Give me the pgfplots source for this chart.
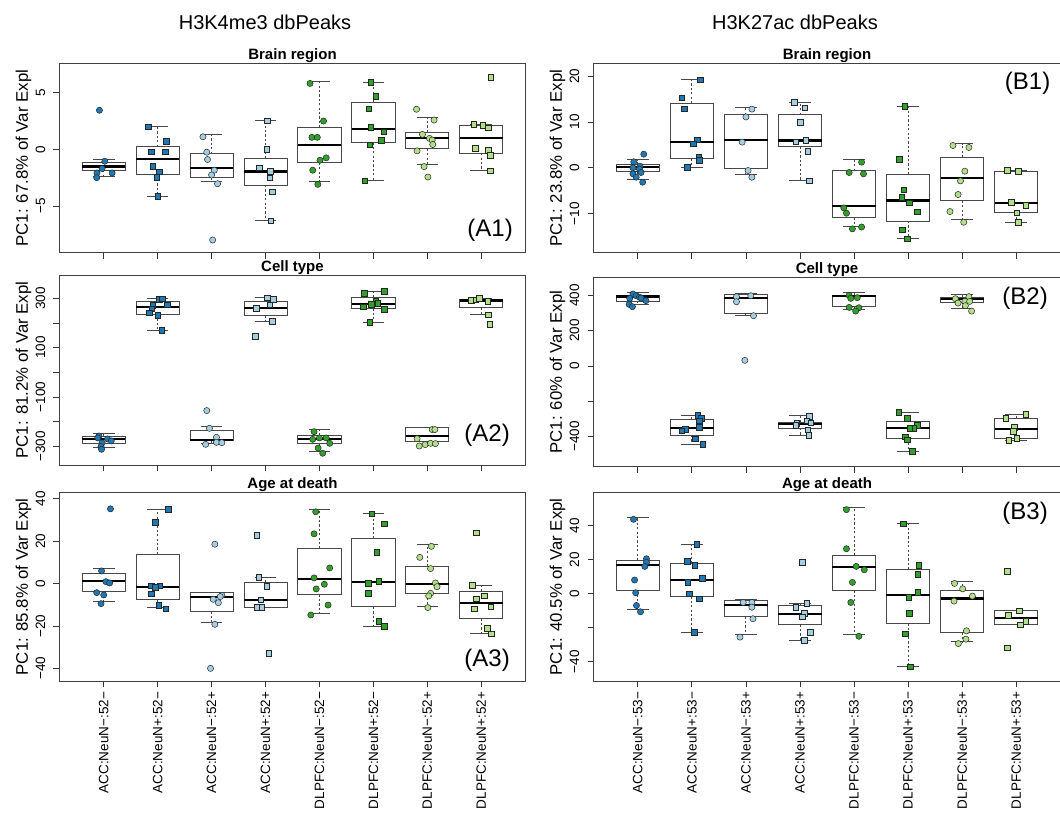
\documentclass[border=0pt]{standalone}
\usepackage{fontspec}
\setmainfont{Liberation Sans}
\usepackage{pgfplots}
\pgfplotsset{compat=1.18}
\usepgfplotslibrary{statistics}

\definecolor{dblue}{HTML}{1F78B4}
\definecolor{lblue}{HTML}{A6CEE3}
\definecolor{dgreen}{HTML}{33A02C}
\definecolor{lgreen}{HTML}{B2DF8A}

\newcommand{\fs}[1]{\fontsize{#1}{#1}\selectfont}

% one box: position, lower whisker, Q1, median, Q3, upper whisker
\newcommand{\bx}[6]{\addplot[boxplot prepared={draw position=#1,
  lower whisker=#2, lower quartile=#3, median=#4,
  upper quartile=#5, upper whisker=#6}] coordinates {};}
% jittered samples: circles (NeuN-) and squares (NeuN+)
\newcommand{\pc}[2]{\addplot[only marks, mark=*, mark size=3.1pt,
  mark options={fill=#1, draw=black!85, line width=0.5pt}] coordinates {#2};}
\newcommand{\ps}[2]{\addplot[only marks, mark=square*, mark size=2.8pt,
  mark options={fill=#1, draw=black!85, line width=0.5pt}] coordinates {#2};}

\tikzset{letter/.style={inner sep=0pt, font=\fs{24}}}

\pgfplotsset{
  panel/.style={
    scale only axis, width=466pt, height=189pt, anchor=south west,
    xmin=0.18, xmax=8.82, xtick={1,...,8}, xticklabels={},
    tick pos=left, tick align=outside, major tick length=6pt,
    axis line style={draw=black!75, line width=0.9pt},
    tick style={draw=black!80, line width=0.8pt},
    yticklabel style={rotate=90, anchor=south, font=\fs{13.5}, inner sep=8pt},
    xticklabel style={rotate=90, anchor=east, font=\fs{13.5}, inner sep=4.5pt},
    title style={font=\bfseries\fs{15}, at={(0.5,1)}, anchor=base, yshift=-2pt},
    ylabel style={font=\fs{16.8}, at={(axis description cs:-0.077,0.5)}, anchor=center},
    boxplot/draw direction=y,
    boxplot/box extend=0.8,
    boxplot/whisker extend=0.4,
    boxplot/every box/.style={draw=black!72, fill=white, line width=0.9pt},
    boxplot/every median/.style={draw=black, line width=2.2pt},
    boxplot/every whisker/.style={draw=black!72, line width=0.9pt},
    boxplot/draw/lower whisker/.code={%
      \draw[/pgfplots/boxplot/every whisker/.try, dash pattern=on 2.2pt off 2.2pt]
        (boxplot cs:\pgfplotsboxplotvalue{lower quartile}) --
        (boxplot cs:\pgfplotsboxplotvalue{lower whisker});
      \draw[/pgfplots/boxplot/every whisker/.try]
        (boxplot whisker cs:\pgfplotsboxplotvalue{lower whisker},0) --
        (boxplot whisker cs:\pgfplotsboxplotvalue{lower whisker},1);
    },
    boxplot/draw/upper whisker/.code={%
      \draw[/pgfplots/boxplot/every whisker/.try, dash pattern=on 2.2pt off 2.2pt]
        (boxplot cs:\pgfplotsboxplotvalue{upper quartile}) --
        (boxplot cs:\pgfplotsboxplotvalue{upper whisker});
      \draw[/pgfplots/boxplot/every whisker/.try]
        (boxplot whisker cs:\pgfplotsboxplotvalue{upper whisker},0) --
        (boxplot whisker cs:\pgfplotsboxplotvalue{upper whisker},1);
    },
  },
  % right-hand column: its right frame edge falls just past the page edge
  rightcol/.style={panel, width=467pt},
}

\begin{document}
\begin{tikzpicture}[x=1pt, y=1pt]
\useasboundingbox (0,0) rectangle (1060,-814);

\node[font=\fs{20}, anchor=base] at (265,-29) {H3K4me3 dbPeaks};
\node[font=\fs{20}, anchor=base] at (795,-29) {H3K27ac dbPeaks};

% ---------------- H3K4me3: brain region ----------------
\begin{axis}[panel, at={(59.5pt,-252.7pt)},
  ymin=-9.11, ymax=7.57, ytick={-5,0,5}, yticklabels={−5,0,5},
  title={Brain region}, ylabel={PC1: 67.8\% of Var Expl}]
\bx{1}{-2.34}{-1.83}{-1.51}{-1.18}{-0.86}
\bx{2}{-4.14}{-2.22}{-0.83}{0.24}{2.01}
\bx{3}{-2.81}{-2.46}{-1.66}{-0.38}{1.33}
\bx{4}{-6.30}{-3.14}{-1.95}{-0.80}{2.54}
\bx{5}{-2.81}{-1.18}{0.36}{1.95}{6.0}
\bx{6}{-2.75}{0.62}{1.78}{4.14}{5.95}
\bx{7}{-1.33}{0.06}{0.98}{1.54}{2.84}
\bx{8}{-1.86}{-0.33}{0.98}{2.10}{2.22}
\pc{dblue}{(0.92,3.46) (1.02,-1.04) (0.97,-1.69) (0.875,-2.07) (1.156,-2.07) (0.87,-2.49)}
\ps{dblue}{(1.82,2.01) (2.16,0.74) (1.88,-0.21) (2.14,-0.21) (1.91,-1.48) (2.03,-1.95) (1.98,-2.46) (2.0,-4.14)}
\pc{lblue}{(2.84,1.12) (2.91,-0.24) (2.925,-0.89) (3.05,-1.83) (3.0,-2.25) (3.11,-3.02) (3.02,-7.99)}
\ps{lblue}{(4.03,2.54) (4.02,0.0) (3.88,-1.60) (4.09,-1.92) (4.08,-2.51) (4.13,-3.73) (4.1,-6.30)}
\pc{dgreen}{(4.825,5.83) (5.075,2.51) (4.86,1.07) (4.96,1.07) (5.125,-0.74) (5.01,-0.95) (4.875,-1.83) (4.97,-3.08)}
\ps{dgreen}{(5.95,5.95) (6.04,4.70) (5.91,3.58) (5.95,1.95) (6.19,1.57) (6.14,0.83) (5.93,0.41) (5.84,-2.75)}
\pc{lgreen}{(6.8,3.55) (7.125,2.60) (6.91,1.33) (7.04,0.98) (7.09,0.83) (7.1,0.44) (6.81,-0.12) (6.94,-1.51) (7.01,-2.43)}
\ps{lgreen}{(8.175,6.36) (7.86,2.22) (8.025,2.13) (8.125,1.92) (7.89,0.09) (8.125,-0.09) (8.17,-0.53) (8.17,-1.86)}
\node[letter, anchor=south east, xshift=-12.5pt, yshift=11pt] at (rel axis cs:1,0) {(A1)};
\end{axis}

% ---------------- H3K4me3: cell type ----------------
\begin{axis}[panel, at={(59.5pt,-465pt)}, height=190pt,
  ymin=-375.7, ymax=394.6, ytick={-300,-200,-100,0,100,200,300},
  yticklabels={−300,,−100,,100,,300},
  title={Cell type}, ylabel={PC1: 81.2\% of Var Expl}]
\bx{1}{-305}{-286.5}{-270}{-259.5}{-247}
\bx{2}{170}{236.5}{265}{286.5}{300}
\bx{3}{-290}{-277}{-273}{-236.5}{-219}
\bx{4}{208}{231}{262}{286.5}{302.7}
\bx{5}{-319}{-287.8}{-270}{-256.8}{-232}
\bx{6}{202.7}{259.5}{275.7}{304}{328.4}
\bx{7}{-297}{-279.7}{-259.5}{-223}{-223}
\bx{8}{234}{262}{291}{296}{300}
\pc{dblue}{(0.91,-258) (0.89,-266) (1.07,-270) (1.14,-278) (0.97,-286) (0.95,-301) (0.96,-312)}
\ps{dblue}{(2.025,297) (2.08,299) (2.18,274) (1.91,272) (1.89,257) (1.84,242) (2.0,231) (2.075,170)}
\pc{lblue}{(2.91,-155) (2.96,-227) (3.09,-263.5) (2.89,-292) (3.09,-284) (3.19,-285)}
\ps{lblue}{(4.03,302.7) (4.14,296) (4.08,274) (3.83,261) (4.12,208) (3.81,146)}
\pc{dgreen}{(4.9,-240.5) (4.875,-271.6) (5.0,-266) (5.125,-266) (5.19,-287.8) (4.975,-306.8) (5.06,-328)}
\ps{dgreen}{(6.2,328.4) (5.83,320) (6.04,290.5) (5.96,275.7) (6.08,279.7) (5.81,266) (6.2,256.8) (5.93,202.7)}
\pc{lgreen}{(7.09,-232) (7.14,-232) (6.81,-269) (6.85,-298.6) (6.96,-293) (7.06,-287.8) (7.15,-289)}
\ps{lgreen}{(7.81,292) (7.9,294.6) (7.96,300) (8.12,289) (8.125,233.8) (8.16,196)}
\node[letter, anchor=south east, xshift=-15.5pt, yshift=18pt] at (rel axis cs:1,0) {(A2)};
\end{axis}

% ---------------- H3K4me3: age at death ----------------
\begin{axis}[panel, at={(59.5pt,-681.3pt)},
  ymin=-46.1, ymax=43.1, ytick={-40,-20,0,20,40},
  yticklabels={−40,−20,0,20,40},
  xticklabels={ACC:NeuN−:52−, ACC:NeuN+:52−, ACC:NeuN−:52+, ACC:NeuN+:52+,
    DLPFC:NeuN−:52−, DLPFC:NeuN+:52−, DLPFC:NeuN−:52+, DLPFC:NeuN+:52+},
  title={Age at death}, ylabel={PC1: 85.8\% of Var Expl}]
\bx{1}{-8.2}{-3.78}{1.42}{4.57}{7.1}
\bx{2}{-11.3}{-7.4}{-1.42}{14.0}{35.1}
\bx{3}{-18.3}{-13.1}{-6.3}{-4.25}{-4.25}
\bx{4}{-11.3}{-11.3}{-7.56}{0.79}{3.0}
\bx{5}{-14.0}{-5.2}{2.36}{16.5}{35.0}
\bx{6}{-20}{-11.0}{0.63}{21.3}{33.1}
\bx{7}{-10.6}{-4.57}{-0.16}{8.0}{18.6}
\bx{8}{-23.6}{-16.5}{-9.1}{-3.46}{-0.94}
\pc{dblue}{(1.125,35.3) (0.96,6.0) (1.04,0.94) (1.11,0.31) (0.87,-4.25) (1.0,-5.35) (0.95,-9.45)}
\ps{dblue}{(2.2,35.1) (1.96,29.1) (1.88,-0.94) (2.04,-0.94) (1.96,-1.57) (1.88,-4.7) (2.02,-10.2) (2.15,-11.8)}
\pc{lblue}{(3.06,18.6) (3.19,-5.5) (3.16,-6.1) (3.03,-7.4) (3.125,-9.0) (3.06,-19.2) (2.98,-40.0)}
\ps{lblue}{(3.84,22.8) (3.875,3.0) (4.02,-1.1) (3.91,-7.56) (3.84,-11.2) (3.93,-11.2) (4.06,-32.9)}
\pc{dgreen}{(4.93,33.9) (4.9,23.5) (5.19,7.4) (4.9,2.7) (5.09,-0.3) (4.94,-2.5) (5.16,-10.1) (4.84,-14.8)}
\ps{dgreen}{(5.97,32.9) (6.2,28.2) (6.06,14.8) (6.1,1.1) (5.9,0.16) (5.9,-4.4) (6.1,-17.8) (6.2,-20)}
\pc{lgreen}{(7.075,17.6) (6.86,12.4) (7.06,7.1) (7.15,0.31) (7.18,-1.42) (7.06,-4.57) (7.025,-5.8) (7.01,-11.3)}
\ps{lgreen}{(7.91,24.1) (7.83,-0.8) (8.05,-5.8) (7.91,-7.2) (8.175,-11.0) (7.87,-11.8) (8.11,-21.1) (8.19,-23.6)}
\node[letter, anchor=south east, xshift=-15.5pt, yshift=9.6pt] at (rel axis cs:1,0) {(A3)};
\end{axis}

% ---------------- H3K27ac: brain region ----------------
\begin{axis}[rightcol, at={(593.5pt,-252.7pt)},
  ymin=-18.5, ymax=22.7, ytick={-10,0,10,20}, yticklabels={−10,0,10,20},
  title={Brain region}, ylabel={PC1: 23.8\% of Var Expl}]
\bx{1}{-2.62}{-0.87}{0.15}{0.73}{1.75}
\bx{2}{0.15}{1.96}{5.67}{14.1}{19.2}
\bx{3}{-1.53}{-0.15}{6.04}{11.56}{13.2}
\bx{4}{-2.84}{4.65}{5.96}{11.56}{14.3}
\bx{5}{-12.8}{-10.9}{-8.29}{-0.65}{1.75}
\bx{6}{-15.5}{-11.6}{-7.13}{-1.45}{13.45}
\bx{7}{-11.3}{-7.2}{-2.25}{2.33}{5.24}
\bx{8}{-11.9}{-9.8}{-7.7}{-0.87}{-0.58}
\pc{dblue}{(1.11,2.98) (0.925,1.31) (1.04,0.36) (0.91,0) (1.03,-0.29) (1.06,-1.02) (0.91,-1.31) (0.97,-2.04) (1.09,-3.13)}
\ps{dblue}{(2.16,19.2) (1.81,15.3) (1.86,12.9) (2.1,6.1) (2.02,5.24) (2.125,2.33) (2.14,1.6) (1.91,0.15)}
\pc{lblue}{(3.11,12.8) (3.0,11.1) (2.93,5.6) (3.04,-0.58) (3.11,-2.04)}
\ps{lblue}{(3.89,14.3) (4.09,13.1) (4.0,10.0) (3.925,5.67) (4.11,5.96) (4.14,3.64) (4.175,-2.84)}
\pc{dgreen}{(5.14,1.24) (4.91,-1.02) (5.175,-1.31) (4.81,-8.73) (4.86,-9.89) (5.14,-12.9) (4.97,-13.3)}
\ps{dgreen}{(5.94,13.45) (5.84,1.89) (5.92,-4.8) (5.88,-6.4) (6.025,-7.6) (6.17,-9.6) (5.89,-13.5) (5.98,-15.5)}
\pc{lgreen}{(6.83,4.87) (7.125,4.44) (7.05,-0.73) (6.97,-2.84) (6.925,-5.82) (6.775,-9.53) (7.03,-11.85)}
\ps{lgreen}{(7.83,-0.58) (8.04,-0.8) (7.91,-7.5) (8.175,-8.15) (8.01,-9.8) (8.04,-11.9)}
\node[letter, anchor=north east, xshift=-10pt, yshift=-8.4pt] at (rel axis cs:1,1) {(B1)};
\end{axis}

% ---------------- H3K27ac: cell type ----------------
\begin{axis}[rightcol, at={(593.5pt,-466.7pt)},
  ymin=-570, ymax=500, ytick={-400,-200,0,200,400},
  yticklabels={−400,,0,200,400},
  title={Cell type}, ylabel={PC1: 60\% of Var Expl}]
\bx{1}{349}{368}{394}{402}{417}
\bx{2}{-441.5}{-390.5}{-351}{-302}{-281}
\bx{3}{285}{298}{385}{405.7}{413}
\bx{4}{-390.5}{-351}{-330}{-319}{-281}
\bx{5}{322.6}{339.6}{396}{400}{415}
\bx{6}{-483}{-409}{-349}{-315}{-262}
\bx{7}{324.5}{362}{379}{387}{405.7}
\bx{8}{-420.8}{-407.5}{-357}{-296}{-273.6}
\pc{dblue}{(0.91,407.5) (0.97,398) (1.03,390) (0.85,383) (1.06,385) (1.15,370) (0.84,349) (0.9,336)}
\ps{dblue}{(2.11,-279) (2.175,-296) (2.14,-309) (2.14,-347) (1.875,-357) (1.81,-366) (2.06,-411) (2.2,-443)}
\pc{lblue}{(2.825,392.5) (2.825,364) (3.09,398) (3.14,285) (2.98,32)}
\ps{lblue}{(4.175,-285) (4.125,-309) (3.94,-324.5) (4.2,-321) (3.925,-336) (4.14,-360) (4.16,-390.5)}
\pc{dgreen}{(4.91,400) (4.94,383) (5.06,387) (4.91,332) (5.09,330) (5.03,311)}
\ps{dgreen}{(5.83,-262) (5.98,-296) (6.17,-336) (6.1,-351) (6.03,-353) (5.95,-400) (5.99,-417) (6.08,-483)}
\pc{lgreen}{(6.875,381) (7.125,392.5) (6.925,356.6) (7.05,366) (7.14,366) (7.06,341.5) (7.175,311)}
\ps{lgreen}{(8.175,-273.6) (7.81,-294) (7.96,-345) (7.94,-370) (7.86,-420.8) (8.01,-407.5)}
\node[letter, anchor=north east, xshift=-12.5pt, yshift=-9pt] at (rel axis cs:1,1) {(B2)};
\end{axis}

% ---------------- H3K27ac: age at death ----------------
\begin{axis}[rightcol, at={(593.5pt,-681.3pt)},
  ymin=-51.5, ymax=59.7, ytick={-40,-20,0,20,40},
  yticklabels={−40,,0,20,40},
  xticklabels={ACC:NeuN−:53−, ACC:NeuN+:53−, ACC:NeuN−:53+, ACC:NeuN+:53+,
    DLPFC:NeuN−:53−, DLPFC:NeuN+:53−, DLPFC:NeuN−:53+, DLPFC:NeuN+:53+},
  title={Age at death}, ylabel={PC1: 40.5\% of Var Expl}]
\bx{1}{-9.2}{2.0}{17.1}{19.8}{45.2}
\bx{2}{-22.6}{-1.6}{8.25}{17.7}{29.1}
\bx{3}{-24.2}{-13.4}{-6.7}{-3.7}{-3.3}
\bx{4}{-27.3}{-18.1}{-11.8}{-6.9}{-5.7}
\bx{5}{-23.8}{2.0}{15.7}{22.6}{50.7}
\bx{6}{-43}{-17.7}{-0.6}{14.3}{41.1}
\bx{7}{-28.3}{-23}{-2.75}{2.0}{7.5}
\bx{8}{-18.1}{-18.1}{-14.3}{-10.0}{-10.0}
\pc{dblue}{(0.92,43.8) (1.16,20.6) (1.16,18.5) (1.13,16.1) (0.94,8.1) (0.96,0.6) (0.975,-6.9) (1.05,-10.6)}
\ps{dblue}{(2.09,29.1) (1.91,19.1) (2.05,16.7) (2.19,9.2) (1.925,6.9) (1.95,0) (2.14,-2.9) (2.04,-22.6)}
\pc{lblue}{(2.95,-5.1) (3.11,-5.1) (3.11,-7.9) (3.13,-14.7) (2.89,-25.5)}
\ps{lblue}{(3.925,-7.9) (4.125,-5.7) (4.075,-11.6) (4.04,-13.6) (4.19,-22.8) (4.075,-27.3) (4.04,18.5)}
\pc{dgreen}{(4.86,49.5) (4.86,26.5) (5.04,16.1) (5.19,14.1) (4.97,6.7) (4.94,-5.1) (5.09,-25)}
\ps{dgreen}{(5.91,41.1) (6.2,16.7) (6.18,11.6) (6.01,-2.0) (6.18,0.8) (6.025,-11.6) (5.95,-23.6) (6.04,-43)}
\pc{lgreen}{(6.86,6.1) (7.01,2.9) (7.19,-1.4) (6.85,-4.3) (7.08,-21.8) (7.07,-26.7) (6.93,-29.3)}
\ps{lgreen}{(7.83,13.2) (8.06,-10.0) (7.85,-12.8) (8.175,-16.3) (8.07,-18.3) (7.83,-31.8)}
\node[letter, anchor=north east, xshift=-12.5pt, yshift=-9.4pt] at (rel axis cs:1,1) {(B3)};
\end{axis}
\end{tikzpicture}
\end{document}
